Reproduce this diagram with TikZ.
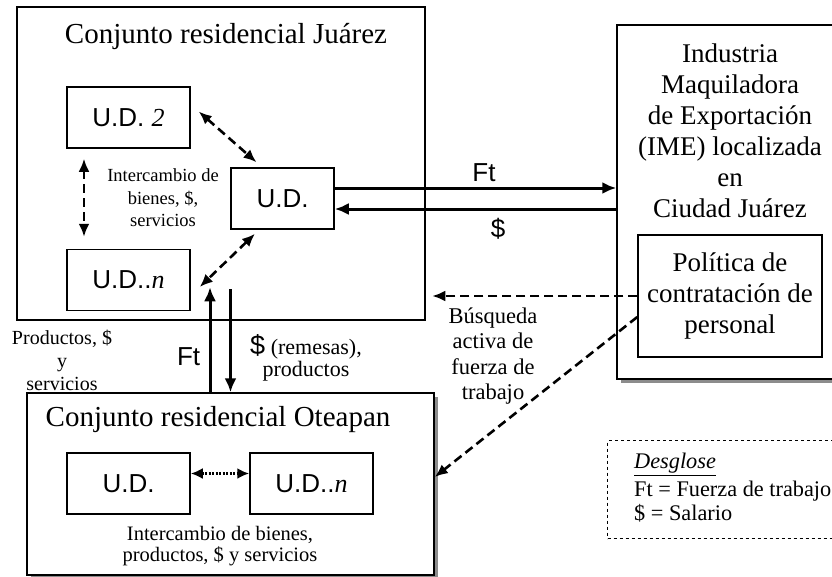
\documentclass[tikz,border=0pt]{standalone}
\usepackage{fontspec}
\setmainfont{Liberation Serif}
\setsansfont{Liberation Sans}
\usetikzlibrary{positioning}
\usetikzlibrary{arrows.meta}
\usetikzlibrary{shadows}
\tikzset{
>={Latex[length=14pt,width=12pt]}, % All arrows with big latex tips
my box/.style={draw,rectangle,line width=1.5pt,inner sep=0pt},
my shadow/.style={fill=white,drop shadow={shadow xshift=4pt,shadow yshift=-4pt,fill=black!45,opacity=1}},
my unit/.style={my box,minimum width=123pt,minimum height=61pt,font=\sffamily\fontsize{26}{28}\selectfont},
my title/.style={font=\fontsize{29}{31}\selectfont},
my text/.style={align=center,font=\fontsize{27}{31}\selectfont},
my note/.style={align=center,inner sep=0pt},
my label/.style={font=\sffamily\fontsize{26}{28}\selectfont},
my solid/.style={line width=3pt},
my dashed/.style={line width=2.6pt,dash pattern=on 9pt off 5pt,>={Latex[length=13pt,width=11pt]}},
my dotted/.style={line width=2.6pt,dash pattern=on 2pt off 1.5pt,>={Latex[length=12pt,width=11pt]}},
}
\begin{document}
\begin{tikzpicture}[x=1pt,y=-1pt]
\useasboundingbox (0,0) rectangle (832,576);
\clip (0,0) rectangle (832,576);
% Conjunto residencial Juarez
\node[my box,minimum width=408pt,minimum height=313pt] (juarez) at (221,163.5) {};
\node[my title] (juareztitle) at (226,37) {Conjunto residencial Juárez};
\node[my unit] (ud2) at (128.5,117.5) {U.D. {\rmfamily\itshape 2}};
\node[my unit] (udn) at (128.5,280) {U.D..{\rmfamily\itshape n}};
\node[my unit,minimum width=103pt] (udc) at (282.5,198.5) {U.D.};
\node[my note,font=\fontsize{18.5}{22.5}\selectfont] (intj) at (163,198) {Intercambio de\\bienes, \$,\\servicios};
% Industria maquiladora
\node[my box,my shadow,minimum width=226pt,minimum height=354pt] (ime) at (730,202) {};
\node[my text] (imetext) at (730,131) {Industria\\Maquiladora\\de Exportación\\(IME) localizada\\en\\Ciudad Juárez};
\node[my box,my text,minimum width=184pt,minimum height=122pt] (politica) at (730,296) {Política de\\contratación de\\personal};
% Conjunto residencial Oteapan
\node[my box,my shadow,minimum width=407pt,minimum height=182pt] (oteapan) at (230.5,484) {};
\node[my title] (oteapantitle) at (218,420) {Conjunto residencial Oteapan};
\node[my unit] (udo1) at (128.5,483.5) {U.D.};
\node[my unit] (udo2) at (311.5,483.5) {U.D..{\rmfamily\itshape n}};
\node[my note,font=\fontsize{20.5}{21.5}\selectfont] (into) at (220,546) {Intercambio de bienes,\\productos, \$ y servicios};
% Desglose
\node[my box,dashed,line width=1.2pt,anchor=north west,minimum width=250pt,minimum height=98pt] (desglose) at (607,440) {};
\node[my note,align=left,anchor=west,font=\fontsize{22.3}{24}\selectfont] (desglosetext) at (634,488) {\underline{\textit{Desglose}}\\[4pt]Ft = Fuerza de trabajo\\\$ = Salario};
% flujos dentro de Juarez
\draw[my dashed,<->] ([shift={(8,-6)}]ud2.east) -- ([shift={(-26,-5)}]udc.north);
\draw[my dashed,<->] ([shift={(-27.5,4)}]udc.south) -- ([shift={(9,7)}]udn.east);
\draw[my dashed,<->] ([shift={(-44.5,10)}]ud2.south) -- ([shift={(-44.5,-12)}]udn.north);
% Juarez <-> IME
\coordinate (ftstart) at ([yshift=10.5pt]udc.east);
\coordinate (salend) at ([yshift=-10.5pt]udc.east);
\draw[my solid,->] (ftstart) -- (ftstart -| ime.west) node[pos=.53,above=1pt,my label] {Ft};
\draw[my solid,->] (salend -| ime.west) -- (salend) node[pos=.42,below=4pt,my label] {\$};
% Oteapan <-> Juarez
\coordinate (ftbase) at ([xshift=-20.5pt]oteapan.north);
\draw[my solid,->] (ftbase) -- ++(0,-105) node[pos=.34,left=5pt,my label] {Ft};
\draw[my solid,<-] (oteapan.north) -- ++(0,-103);
\node[my note,font=\fontsize{22}{22}\selectfont] (remesas) at (306,358) {{\sffamily\fontsize{27}{22}\selectfont\$} (remesas),\\productos};
\node[my note,font=\fontsize{20}{23}\selectfont] (productos) at (62,360) {Productos, \$\\y\\servicios};
% busqueda de fuerza de trabajo
\draw[my dashed,->] (politica.west) -- ++(-205,0);
\draw[my dashed,->] ([yshift=-21pt]politica.west) -- ([yshift=7pt]oteapan.east);
\node[my note,font=\fontsize{22.5}{25.5}\selectfont] (busqueda) at (493,356) {Búsqueda\\activa de\\fuerza de\\trabajo};
% intercambio en Oteapan
\draw[my dotted,<->] ([yshift=10pt]udo1.east) -- ([yshift=10pt]udo2.west);
\end{tikzpicture}
\end{document}
